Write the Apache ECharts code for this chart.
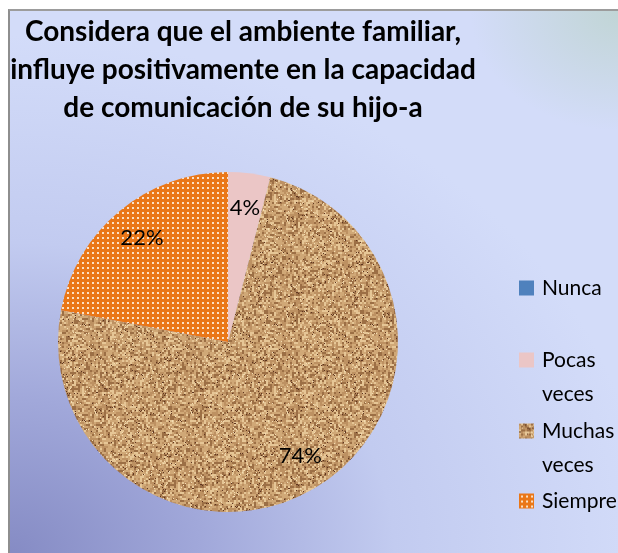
<!DOCTYPE html>
<html>
<head>
<meta charset="utf-8">
<script src="https://cdn.jsdelivr.net/npm/echarts@6/dist/echarts.min.js"></script>
<style>
  html, body { margin: 0; padding: 0; background: #fff; }
  #bg {
    position: absolute; left: 8px; top: 9px; width: 610px; height: 544px;
    border-top: 2px solid #9c9c9c; border-left: 2px solid #8e8e8e;
    background:
      radial-gradient(ellipse 150px 120px at 100% 0%, rgba(185,210,198,0.7) 0%, rgba(185,210,198,0) 100%),
      radial-gradient(ellipse 640px 520px at 0% 100%, #858bc4 0%, #a1a8da 30%, #c2cbf0 60%, rgba(211,220,249,0) 100%),
      #d3dcf9;
  }
  #chart { position: absolute; left: 0; top: 0; width: 618px; height: 553px; }
</style>
</head>
<body>
<div id="bg"></div>
<div id="chart"></div>
<script>
const titleText = 'Considera que el ambiente familiar,\ninfluye positivamente en la capacidad\nde comunicación de su hijo-a';
const categories = ['Nunca', 'Pocas veces', 'Muchas veces', 'Siempre'];
const legendLabels = ['Nunca', 'Pocas\nveces', 'Muchas\nveces', 'Siempre'];
const percents = [0, 4, 74, 22];

// cork-like texture (deterministic hash, purely decorative)
function corkPattern() {
  const n = 96;
  const raw = document.createElement('canvas');
  raw.width = n; raw.height = n;
  let ctx = raw.getContext('2d');
  const hash = (x, y, k) => Math.abs(Math.sin(x * 12.9898 + y * 78.233 + k * 37.719) * 43758.5453) % 1;
  for (let y = 0; y < n; y += 2) {
    for (let x = 0; x < n; x += 2) {
      const h = hash(x, y, 1);
      let col;
      if (h < 0.2) col = '#9c6f45';
      else if (h < 0.5) col = '#bd9162';
      else if (h < 0.8) col = '#d0a877';
      else col = '#e6c696';
      ctx.fillStyle = col;
      ctx.fillRect(x, y, 2, 2);
    }
  }
  const c = document.createElement('canvas');
  c.width = n; c.height = n;
  ctx = c.getContext('2d');
  ctx.filter = 'blur(0.7px)';
  ctx.drawImage(raw, 0, 0);
  ctx.filter = 'none';
  for (let y = 0; y < n; y++) {
    for (let x = 0; x < n; x++) {
      const h = hash(x, y, 2);
      if (h < 0.02) { ctx.fillStyle = '#5e3520'; ctx.fillRect(x, y, 1, 1); }
      else if (h < 0.04) { ctx.fillStyle = '#f3dcb2'; ctx.fillRect(x, y, 1, 1); }
    }
  }
  return c;
}
function dotPattern() {
  const c = document.createElement('canvas');
  c.width = 5; c.height = 5;
  const ctx = c.getContext('2d');
  ctx.fillStyle = '#ea7718';
  ctx.fillRect(0, 0, 5, 5);
  ctx.fillStyle = '#fbe2c8';
  ctx.fillRect(2, 2, 2, 2);
  return c;
}

const colors = [
  '#4f81bd',
  '#ebc6c6',
  { image: corkPattern(), repeat: 'repeat' },
  { image: dotPattern(), repeat: 'repeat' }
];

const pieData = categories.map((name, i) => ({ value: percents[i], name: name, itemStyle: { color: colors[i] } }));
const labelData = categories.map((name, i) => ({ value: percents[i], name: name }));

const fontFam = "Lato, 'Open Sans', sans-serif";
const legendTops = [271, 309, 380, 484];

const chart = echarts.init(document.getElementById('chart'));
chart.setOption({
  animation: false,
  title: {
    text: titleText,
    left: 238, top: 8,
    textAlign: 'center',
    textStyle: { fontFamily: fontFam, fontSize: 28, fontWeight: 'bold', color: '#000', lineHeight: 38 }
  },
  legend: categories.map((name, i) => ({
    data: [name],
    left: 519, top: legendTops[i],
    padding: 0,
    icon: 'rect', itemWidth: 15, itemHeight: 15,
    selectedMode: false,
    // an empty first line keeps the icon level with the first text line
    formatter: () => legendLabels[i].indexOf('\n') >= 0 ? '\n' + legendLabels[i] : legendLabels[i],
    textStyle: {
      fontFamily: fontFam, fontSize: 21, color: '#000', lineHeight: 34,
      padding: [0, 0, 0, 3]
    }
  })),
  series: [
    {
      type: 'pie',
      center: [228, 342], radius: 170,
      startAngle: 90, clockwise: true,
      silent: true,
      label: { show: false }, labelLine: { show: false },
      data: pieData
    },
    {
      type: 'pie',
      center: [228, 342], radius: [100, 164],
      startAngle: 90, clockwise: true,
      silent: true, legendHoverLink: false,
      itemStyle: { color: 'rgba(0,0,0,0)' },
      label: {
        show: true, position: 'inside',
        fontFamily: fontFam, fontSize: 22, color: '#000',
        formatter: p => p.value > 0 ? p.value + '%' : ''
      },
      labelLine: { show: false },
      data: labelData
    }
  ]
});
</script>
</body>
</html>
